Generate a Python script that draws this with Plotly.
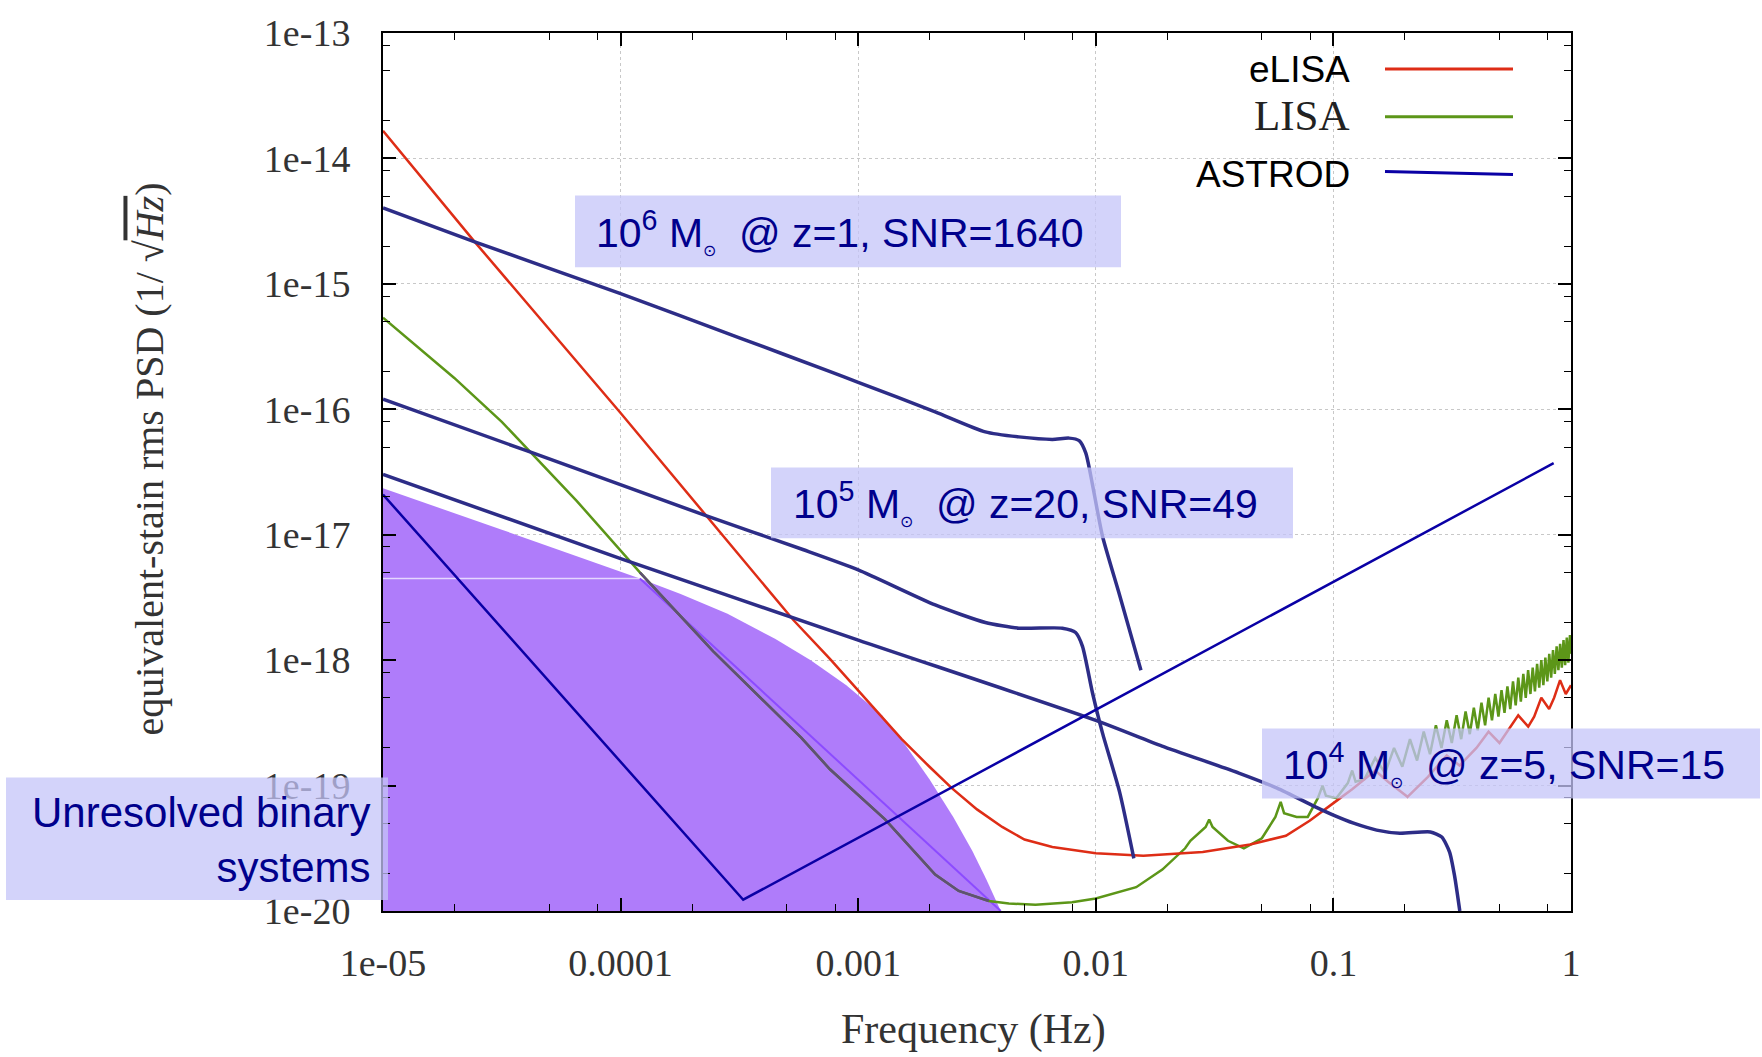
import numpy as np
import plotly.graph_objects as go

# ---------------- data (log10 frequency [Hz], log10 strain) ----------------
elisa_logf = [-5.0, -4.614, -4.0, -3.638, -3.273, -3.119, -3.0, -2.817, -2.7, -2.606, -2.5, -2.394,
              -2.3, -2.183, -2.0, -1.8, -1.55, -1.35, -1.2, -1.1, -1.0, -0.921, -0.824,
              -0.770, -0.688, -0.602, -0.523, -0.469, -0.398, -0.347, -0.301, -0.260, -0.222,
              -0.180, -0.155, -0.125, -0.092, -0.071, -0.046, -0.022, 0.0]
elisa_logh = [-13.78, -14.665, -16.03, -16.85, -17.68, -17.99, -18.24, -18.63, -18.85, -19.02, -19.19, -19.33,
              -19.43, -19.49, -19.54, -19.56, -19.53, -19.47, -19.40, -19.28, -19.14, -19.03, -18.88,
              -18.97, -19.09, -18.93, -18.76, -18.84, -18.70, -18.57, -18.66, -18.55, -18.44,
              -18.53, -18.45, -18.30, -18.39, -18.30, -18.16, -18.27, -18.20]

lisa_low_logf = [-5.0, -4.7, -4.5, -4.396, -4.185, -3.919, -3.61, -3.239, -3.119, -2.887,
                 -2.676, -2.577, -2.45, -2.366, -2.254, -2.1, -2.0, -1.83, -1.72, -1.624]
lisa_low_logh = [-15.27, -15.75, -16.10, -16.31, -16.73, -17.30, -17.93, -18.62, -18.87, -19.27,
                 -19.71, -19.84, -19.92, -19.94, -19.95, -19.93, -19.90, -19.81, -19.67, -19.50]
lisa_high_f = [0.025, 0.029, 0.030, 0.031, 0.036, 0.042, 0.050, 0.057, 0.060, 0.062,
               0.070, 0.078, 0.086, 0.090, 0.093, 0.103, 0.115, 0.120, 0.124, 0.135,
               0.150, 0.165, 0.180, 0.195, 0.210, 0.225, 0.240, 0.255, 0.270, 0.285,
               0.300, 0.315, 0.330, 0.345, 0.360, 0.375, 0.390, 0.405, 0.420, 0.435,
               0.450, 0.465, 0.480, 0.495, 0.510, 0.525, 0.540, 0.555, 0.570, 0.585,
               0.600, 0.615, 0.630, 0.645, 0.660, 0.675, 0.690, 0.705, 0.720, 0.735,
               0.750, 0.765, 0.780, 0.795, 0.810, 0.825, 0.840, 0.855, 0.870, 0.885,
               0.900, 0.915, 0.930, 0.945, 0.960, 0.975, 0.990, 1.000]
lisa_high_logh = [-19.44, -19.33, -19.27, -19.33, -19.44, -19.50, -19.42, -19.25, -19.13, -19.22,
                  -19.25, -19.25, -19.10, -19.00, -19.08, -19.10, -18.98, -18.88, -18.97, -18.95,
                  -18.78, -18.90, -18.70, -18.85, -18.63, -18.80, -18.57, -18.75, -18.52, -18.70,
                  -18.48, -18.66, -18.44, -18.63, -18.41, -18.59, -18.38, -18.56, -18.34, -18.52,
                  -18.30, -18.48, -18.27, -18.45, -18.24, -18.42, -18.21, -18.39, -18.17, -18.36,
                  -18.14, -18.33, -18.11, -18.30, -18.08, -18.27, -18.06, -18.25, -18.03, -18.22,
                  -18.00, -18.20, -17.98, -18.17, -17.95, -18.14, -17.92, -18.11, -17.89, -18.08,
                  -17.87, -18.06, -17.84, -18.04, -17.82, -18.02, -17.80, -17.95]

astrod_logf = [-5.0, -3.484, -0.073]
astrod_logh = [-16.68, -19.91, -16.43]

mbh6_logf = [-5.0, -4.614, -4.003, -3.5, -3.118, -3.0, -2.676, -2.465, -2.324, -2.183,
             -2.113, -2.07, -2.042, -2.014, -1.972, -1.90, -1.81]
mbh6_logh = [-14.395, -14.665, -15.076, -15.43, -15.70, -15.785, -16.02, -16.18, -16.22, -16.24,
             -16.23, -16.25, -16.35, -16.60, -17.01, -17.48, -18.08]

mbh5_logf = [-5.0, -4.396, -3.638, -3.23, -3.0, -2.676, -2.465, -2.324, -2.141, -2.085,
             -2.056, -2.014, -1.972, -1.90, -1.84]
mbh5_logh = [-15.92, -16.33, -16.85, -17.12, -17.28, -17.56, -17.70, -17.745, -17.745, -17.78,
             -17.89, -18.26, -18.58, -19.05, -19.58]

mbh4_logf = [-5.0, -4.0, -3.0, -2.0, -1.721, -1.398, -1.237, -1.076, -0.995,
             -0.915, -0.818, -0.72, -0.592, -0.544, -0.511, -0.49, -0.468]
mbh4_logh = [-16.52, -17.19, -17.84, -18.48, -18.685, -18.90, -19.02, -19.17, -19.24,
             -19.30, -19.355, -19.38, -19.37, -19.41, -19.53, -19.72, -20.0]

binary_logf = [-5.0, -4.5, -3.919, -3.75, -3.55, -3.35, -3.2, -3.05, -2.9, -2.8, -2.7, -2.6,
               -2.52, -2.46, -2.40, -5.0]
binary_logh = [-16.63, -16.96, -17.35, -17.47, -17.63, -17.83, -18.0, -18.20, -18.44, -18.68, -18.95, -19.25,
               -19.52, -19.75, -20.0, -20.0]
binary_edge_logf = [-3.919, -2.40]
binary_edge_logh = [-17.35, -20.0]
binary_seam_logf = [-5.0, -3.919]
binary_seam_logh = [-17.35, -17.35]

x_tick_vals = [1e-5, 1e-4, 1e-3, 1e-2, 1e-1, 1]
x_tick_text = ['1e-05', '0.0001', '0.001', '0.01', '0.1', '1']
y_tick_vals = [1e-20, 1e-19, 1e-18, 1e-17, 1e-16, 1e-15, 1e-14, 1e-13]
y_tick_text = ['1e-20', '1e-19', '1e-18', '1e-17', '1e-16', '1e-15', '1e-14', '1e-13']

legend_names = ['eLISA', 'LISA', 'ASTROD']
box_texts = ['10<sup>6</sup> M<sub><span style="font-size:16px">⊙</span></sub>  @ z=1, SNR=1640',
             '10<sup>5</sup> M<sub><span style="font-size:16px">⊙</span></sub>  @ z=20, SNR=49',
             '10<sup>4</sup> M<sub><span style="font-size:16px">⊙</span></sub>  @ z=5, SNR=15',
             'Unresolved binary<br>systems']

# ---------------- build ----------------
def lin(v):
    return [10 ** a for a in v]

RED = 'rgb(222,45,22)'
GREEN = 'rgb(92,150,24)'
MBH = 'rgb(45,45,135)'
ASTROD = 'rgb(10,0,165)'
PURPLE = 'rgb(175,124,250)'
NAVY_TXT = 'rgb(0,0,140)'

fig = go.Figure()
fig.add_trace(go.Scatter(x=lin(binary_logf), y=lin(binary_logh), mode='lines', fill='toself',
                         fillcolor=PURPLE, line=dict(width=0), hoverinfo='skip'))
fig.add_trace(go.Scatter(x=lin(binary_seam_logf), y=lin(binary_seam_logh), mode='lines',
                         line=dict(color='rgba(235,225,255,0.9)', width=1.5), hoverinfo='skip'))
fig.add_trace(go.Scatter(x=lin(binary_edge_logf), y=lin(binary_edge_logh), mode='lines',
                         line=dict(color='rgb(140,75,255)', width=2), hoverinfo='skip'))

lisa_f = lin(lisa_low_logf) + lisa_high_f
lisa_h = lin(lisa_low_logh) + lin(lisa_high_logh)
fig.add_trace(go.Scatter(x=lisa_f, y=lisa_h, mode='lines', name='LISA',
                         line=dict(color=GREEN, width=2.5)))
# part of the LISA curve seen through the binary foreground
inside = [i for i, v in enumerate(lisa_low_logf) if -3.92 <= v <= -2.44]
fig.add_trace(go.Scatter(x=[lisa_f[i] for i in inside], y=[lisa_h[i] for i in inside], mode='lines',
                         line=dict(color='rgb(95,80,115)', width=2.5), hoverinfo='skip'))
fig.add_trace(go.Scatter(x=lin(elisa_logf), y=lin(elisa_logh), mode='lines', name='eLISA',
                         line=dict(color=RED, width=2.5)))
for lf, lh in [(mbh6_logf, mbh6_logh), (mbh5_logf, mbh5_logh), (mbh4_logf, mbh4_logh)]:
    fig.add_trace(go.Scatter(x=lin(lf), y=lin(lh), mode='lines',
                             line=dict(color=MBH, width=3.5, shape='spline', smoothing=0.6),
                             hoverinfo='skip'))
fig.add_trace(go.Scatter(x=lin(astrod_logf), y=lin(astrod_logh), mode='lines', name='ASTROD',
                         line=dict(color=ASTROD, width=2.5)))

# plot-area geometry (pixels)
W, H = 1762, 1057
L, R, T, B = 383, 1571, 30, 911
PW, PH = R - L, B - T

def px(x):
    return (x - L) / PW

def py(y):
    return (B - y) / PH

axis_common = dict(type='log', showline=True, linecolor='black', linewidth=2, mirror='allticks',
                   ticks='inside', ticklen=13, tickwidth=1.5, tickcolor='black',
                   showgrid=True, gridcolor='rgb(200,200,200)', griddash='dot', gridwidth=1,
                   zeroline=False, tickfont=dict(family='Liberation Serif', size=38, color='#333'))
minor_x = [m * 10.0 ** e for e in range(-5, 0) for m in (2, 5, 8)]
minor_y = [m * 10.0 ** e for e in range(-20, -13) for m in (2, 5, 8)]
fig.update_xaxes(**axis_common, range=[-5, 0], tickvals=x_tick_vals, ticktext=x_tick_text,
                 ticklabelstandoff=17,
                 minor=dict(tickvals=minor_x, ticks='inside', ticklen=7, tickcolor='black', tickwidth=1.2, showgrid=False))
fig.update_yaxes(**axis_common, range=[-20, -13], tickvals=y_tick_vals, ticktext=y_tick_text,
                 ticklabelstandoff=23,
                 minor=dict(tickvals=minor_y, ticks='inside', ticklen=7, tickcolor='black', tickwidth=1.2, showgrid=False))

shapes = []
# white patch behind legend texts (hides grid)
shapes.append(dict(type='rect', xref='paper', yref='paper', x0=px(1180), x1=px(1378), y0=py(203), y1=py(31),
                   fillcolor='white', line=dict(width=0), layer='between'))
# legend line samples
leg_colors = [RED, GREEN, ASTROD]
leg_y = [(66, 66), (114, 114), (169, 172)]
for c, (ya, yb) in zip(leg_colors, leg_y):
    shapes.append(dict(type='line', xref='paper', yref='paper', x0=px(1385), x1=px(1513), y0=py(ya), y1=py(yb),
                       line=dict(color=c, width=3)))
# annotation boxes
BOXFILL = 'rgba(196,196,248,0.75)'
boxes = [(575, 1121, 193, 265), (771, 1293, 466, 537), (1262, 1760, 728, 798), (6, 388, 777, 900)]
for x0, x1, y0, y1 in boxes:
    shapes.append(dict(type='rect', xref='paper', yref='paper', x0=px(x0), x1=px(x1), y0=py(y1), y1=py(y0),
                       fillcolor=BOXFILL, line=dict(width=0), layer='above'))

annotations = []
leg_font = [dict(family='Liberation Sans', size=37, color='black'),
            dict(family='Liberation Serif', size=43, color='#222'),
            dict(family='Liberation Sans', size=37, color='black')]
leg_text_y = [67, 113, 172]
for name, f, yy in zip(legend_names, leg_font, leg_text_y):
    annotations.append(dict(xref='paper', yref='paper', x=px(1352), y=py(yy), xanchor='right', yanchor='middle',
                            text=name, showarrow=False, font=f))
txt_font = dict(family='Liberation Sans', size=41, color=NAVY_TXT)
for t, (xl, yc) in zip(box_texts[:3], [(594, 229), (791, 501), (1281, 763)]):
    annotations.append(dict(xref='paper', yref='paper', x=px(xl), y=py(yc), xanchor='left', yanchor='middle',
                            text=t, showarrow=False, font=txt_font))
annotations.append(dict(xref='paper', yref='paper', x=px(373), y=py(840), xanchor='right', yanchor='middle',
                        align='right', text=box_texts[3], showarrow=False,
                        font=dict(family='Liberation Sans', size=42, color=NAVY_TXT)))
# axis titles
annotations.append(dict(xref='paper', yref='paper', x=px(973), y=py(1030), xanchor='center', yanchor='middle',
                        text='Frequency (Hz)', showarrow=False,
                        font=dict(family='Liberation Serif', size=42, color='#333')))
annotations.append(dict(xref='paper', yref='paper', x=px(150), y=py(458), xanchor='center', yanchor='middle',
                        text='equivalent-stain rms PSD (1/ √<span style="text-decoration:overline"><i>Hz</i></span>)',
                        textangle=-90, showarrow=False,
                        font=dict(family='Liberation Serif', size=40, color='#333')))

fig.update_layout(width=W, height=H, margin=dict(l=L, r=W - R, t=T, b=H - B),
                  paper_bgcolor='white', plot_bgcolor='white', showlegend=False,
                  shapes=shapes, annotations=annotations)

fig.write_html('out.html', config={'displayModeBar': False},
               post_script="document.body.style.margin='0';")
